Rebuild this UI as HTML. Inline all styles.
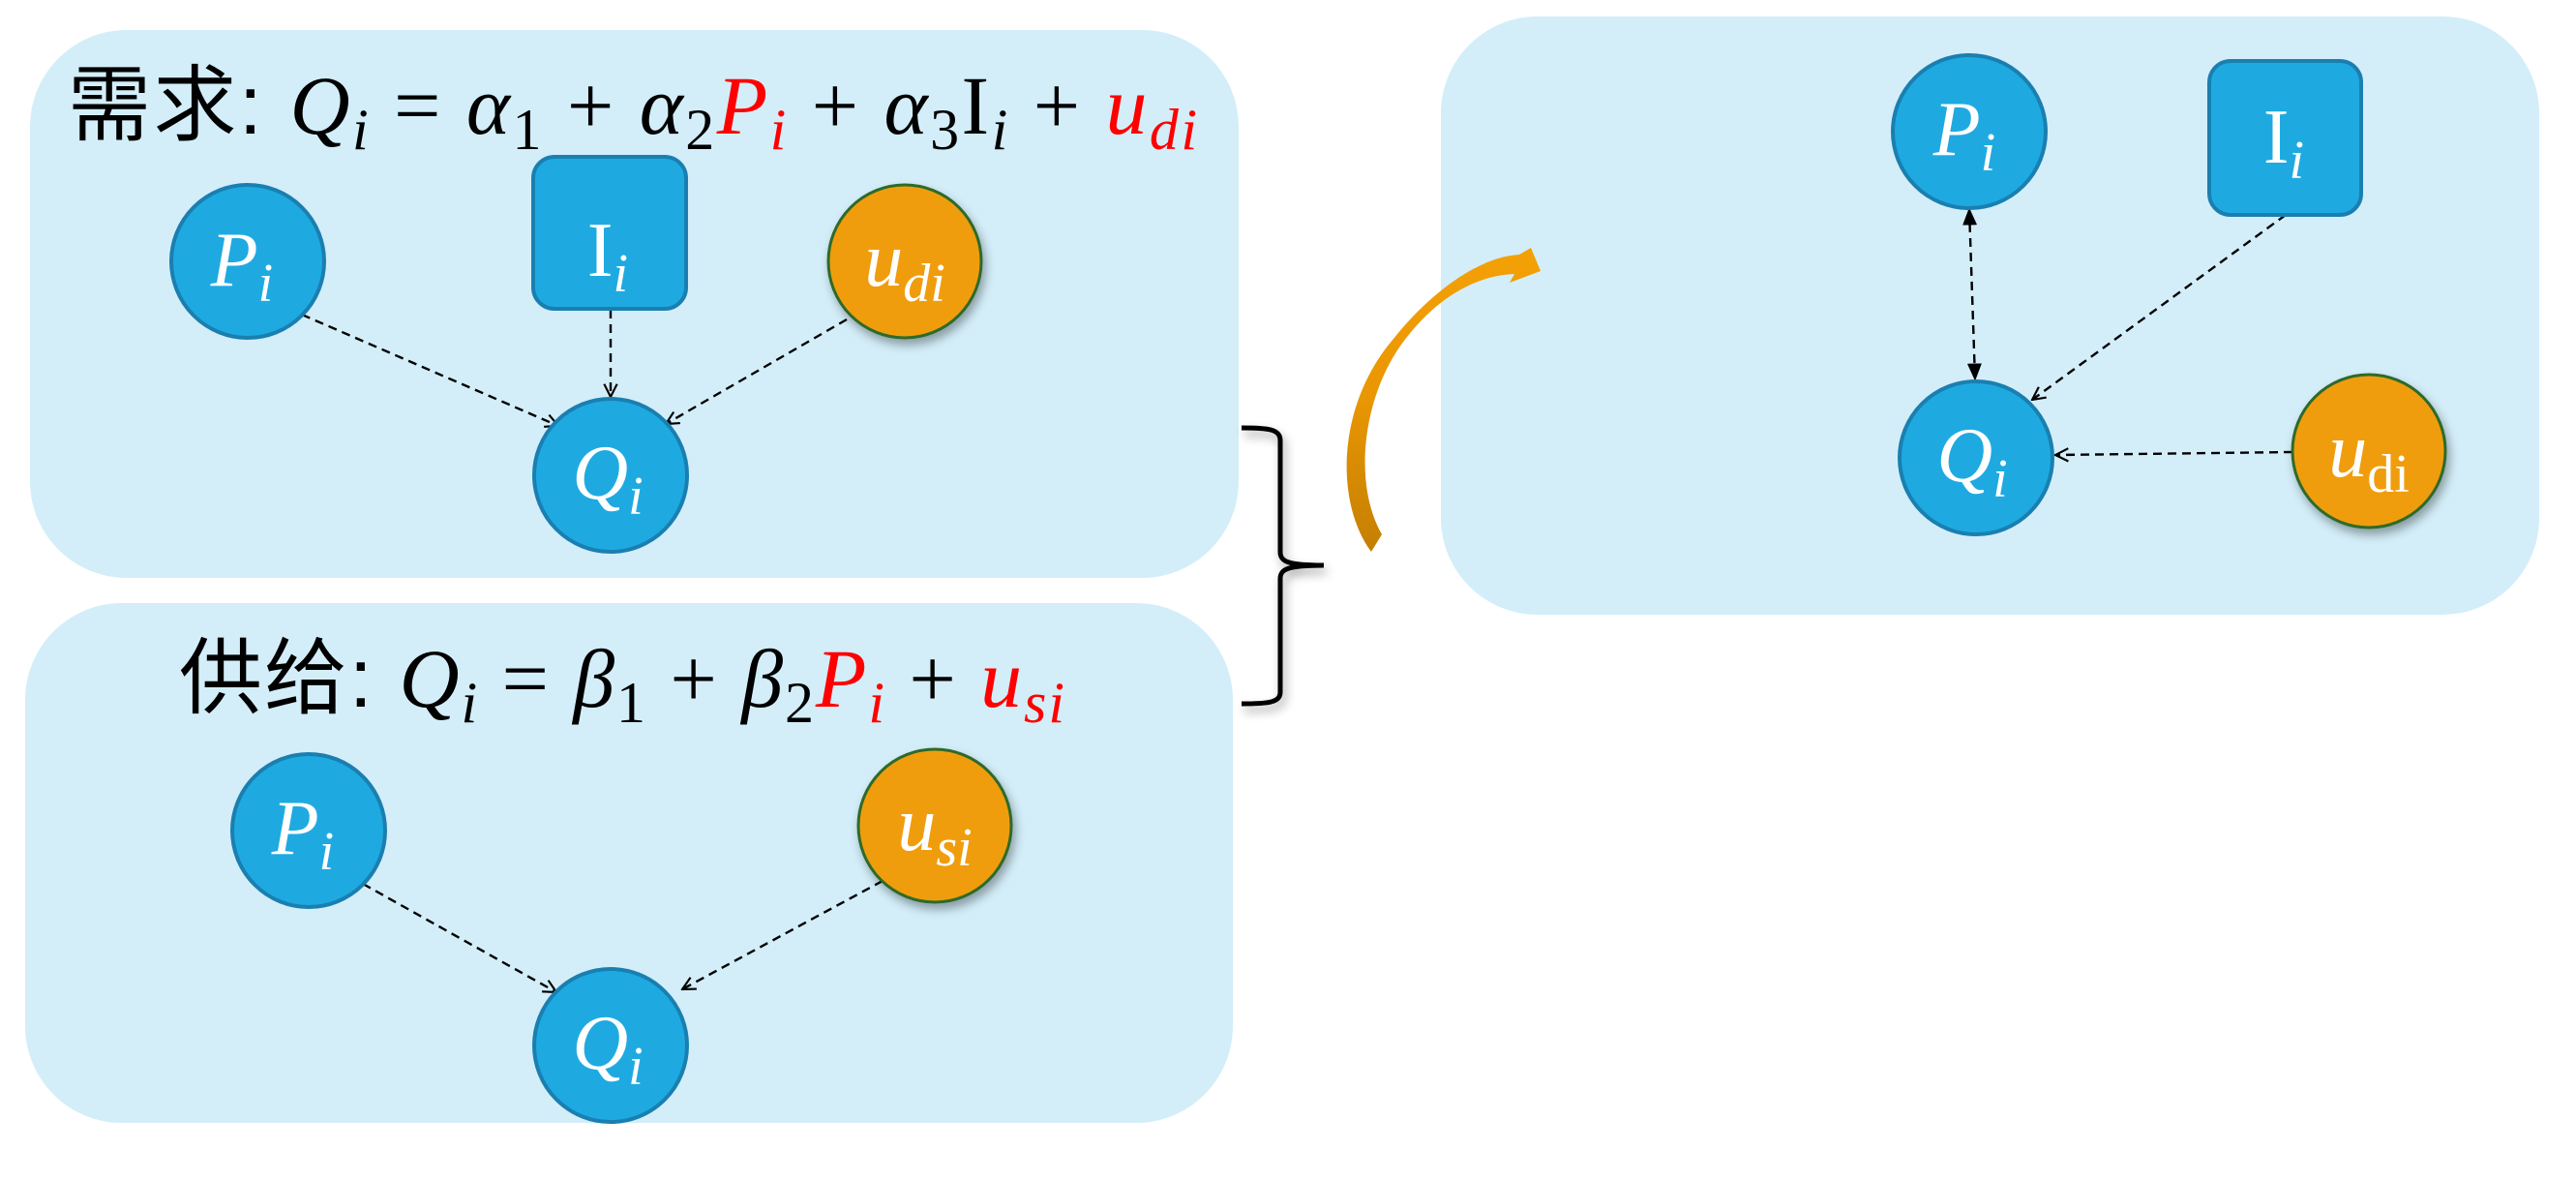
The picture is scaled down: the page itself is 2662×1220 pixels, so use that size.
<!DOCTYPE html>
<html><head><meta charset="utf-8"><style>
html,body{margin:0;padding:0;background:#fff;}
svg{display:block;}
.m{font-family:"Liberation Serif",serif;font-style:italic;}
.c{font-family:"Liberation Sans","Noto Sans CJK SC",sans-serif;}
</style></head><body>
<svg width="2662" height="1220" viewBox="0 0 2662 1220" xmlns="http://www.w3.org/2000/svg">
<defs>
<marker id="oa" viewBox="0 0 12 12" refX="11" refY="6" markerWidth="16" markerHeight="16" markerUnits="userSpaceOnUse" orient="auto"><path d="M1,1 L11,6 L1,11" fill="none" stroke="#000" stroke-width="1.6"/></marker>
<marker id="fa" viewBox="0 0 12 12" refX="11" refY="6" markerWidth="18" markerHeight="18" markerUnits="userSpaceOnUse" orient="auto-start-reverse"><path d="M0,1 L12,6 L0,11 z" fill="#000"/></marker>
<filter id="sh" x="-30%" y="-30%" width="160%" height="160%"><feDropShadow dx="3" dy="6" stdDeviation="5" flood-color="#000" flood-opacity="0.35"/></filter>
<linearGradient id="og" x1="0" y1="0" x2="0" y2="1"><stop offset="0" stop-color="#f4a006"/><stop offset="0.5" stop-color="#e99603"/><stop offset="1" stop-color="#c47f02"/></linearGradient>
</defs>
<rect x="31" y="31" width="1249" height="566" rx="100" fill="#d3eef9"/>
<rect x="26" y="623" width="1248" height="537" rx="100" fill="#d3eef9"/>
<rect x="1489" y="17" width="1135" height="618" rx="100" fill="#d3eef9"/>

<text x="70" y="138" font-size="86" fill="#000" textLength="1167" lengthAdjust="spacing"><tspan class="c">需求: </tspan><tspan class="m">Q</tspan><tspan class="m" font-size="60" dy="16">i</tspan><tspan dy="-16" font-family="Liberation Serif"> = </tspan><tspan class="m">α</tspan><tspan font-family="Liberation Serif" font-size="60" dy="16">1</tspan><tspan dy="-16" font-family="Liberation Serif"> + </tspan><tspan class="m">α</tspan><tspan font-family="Liberation Serif" font-size="60" dy="16">2</tspan><tspan class="m" fill="#f00" dy="-16">P</tspan><tspan class="m" fill="#f00" font-size="60" dy="16">i</tspan><tspan dy="-16" font-family="Liberation Serif"> + </tspan><tspan class="m">α</tspan><tspan font-family="Liberation Serif" font-size="60" dy="16">3</tspan><tspan font-family="Liberation Serif" dy="-16">I</tspan><tspan class="m" font-size="60" dy="16">i</tspan><tspan dy="-16" font-family="Liberation Serif"> + </tspan><tspan class="m" fill="#f00">u</tspan><tspan class="m" fill="#f00" font-size="60" dy="16">di</tspan></text>

<text x="185" y="730" font-size="86" fill="#000" textLength="915" lengthAdjust="spacing"><tspan class="c">供给: </tspan><tspan class="m">Q</tspan><tspan class="m" font-size="60" dy="16">i</tspan><tspan dy="-16" font-family="Liberation Serif"> = </tspan><tspan class="m">β</tspan><tspan font-family="Liberation Serif" font-size="60" dy="16">1</tspan><tspan dy="-16" font-family="Liberation Serif"> + </tspan><tspan class="m">β</tspan><tspan font-family="Liberation Serif" font-size="60" dy="16">2</tspan><tspan class="m" fill="#f00" dy="-16">P</tspan><tspan class="m" fill="#f00" font-size="60" dy="16">i</tspan><tspan dy="-16" font-family="Liberation Serif"> + </tspan><tspan class="m" fill="#f00">u</tspan><tspan class="m" fill="#f00" font-size="60" dy="16">si</tspan></text>

<g stroke="#000" stroke-width="2.4" stroke-dasharray="9,6" fill="none">
<line x1="312" y1="325" x2="577" y2="440" marker-end="url(#oa)"/>
<line x1="631" y1="320" x2="631" y2="410" marker-end="url(#oa)"/>
<line x1="875" y1="330" x2="688" y2="438" marker-end="url(#oa)"/>
<line x1="375" y1="913" x2="575" y2="1025" marker-end="url(#oa)"/>
<line x1="912" y1="910" x2="705" y2="1022" marker-end="url(#oa)"/>
<line x1="2035" y1="216" x2="2041" y2="392" marker-start="url(#fa)" marker-end="url(#fa)"/>
<line x1="2362" y1="222" x2="2100" y2="413" marker-end="url(#oa)"/>
<line x1="2369" y1="467" x2="2124" y2="470" marker-end="url(#oa)"/>
</g>

<g stroke="#1a7fb0" stroke-width="4" fill="#1eaae1">
<circle cx="256" cy="270" r="79"/>
<rect x="551" y="162" width="158" height="157" rx="22"/>
<circle cx="631" cy="491" r="79"/>
<circle cx="319" cy="858" r="79"/>
<circle cx="631" cy="1080" r="79"/>
<circle cx="2035" cy="136" r="79"/>
<rect x="2283" y="63" width="157" height="159" rx="22"/>
<circle cx="2042" cy="473" r="79"/>
</g>
<g stroke="#2e6a2c" stroke-width="3" fill="#f09d07" filter="url(#sh)">
<circle cx="935" cy="270" r="79"/>
<circle cx="966" cy="853" r="79"/>
<circle cx="2448" cy="466" r="79"/>
</g>

<g fill="#fff" font-size="80">
<text x="250" y="295" text-anchor="middle"><tspan class="m">P</tspan><tspan class="m" font-size="56" dy="16">i</tspan></text>
<text x="628" y="285" text-anchor="middle"><tspan font-family="Liberation Serif">I</tspan><tspan class="m" font-size="56" dy="16">i</tspan></text>
<text x="935" y="295" text-anchor="middle"><tspan class="m">u</tspan><tspan class="m" font-size="56" dy="16">di</tspan></text>
<text x="628" y="515" text-anchor="middle"><tspan class="m">Q</tspan><tspan class="m" font-size="56" dy="16">i</tspan></text>
<text x="313" y="882" text-anchor="middle"><tspan class="m">P</tspan><tspan class="m" font-size="56" dy="16">i</tspan></text>
<text x="966" y="878" text-anchor="middle"><tspan class="m">u</tspan><tspan class="m" font-size="56" dy="16">si</tspan></text>
<text x="628" y="1104" text-anchor="middle"><tspan class="m">Q</tspan><tspan class="m" font-size="56" dy="16">i</tspan></text>
<text x="2030" y="160" text-anchor="middle"><tspan class="m">P</tspan><tspan class="m" font-size="56" dy="16">i</tspan></text>
<text x="2360" y="168" text-anchor="middle"><tspan font-family="Liberation Serif">I</tspan><tspan class="m" font-size="56" dy="16">i</tspan></text>
<text x="2038" y="497" text-anchor="middle"><tspan class="m">Q</tspan><tspan class="m" font-size="56" dy="16">i</tspan></text>
<text x="2448" y="492" text-anchor="middle"><tspan class="m">u</tspan><tspan font-family="Liberation Serif" font-size="56" dy="16">di</tspan></text>
</g>

<path d="M1283,442 C1310,442 1323,443 1323,455 L1323,570 C1323,580 1330,584 1368,584 C1330,584 1323,588 1323,598 L1323,715 C1323,726 1310,727 1283,727" fill="none" stroke="#000" stroke-width="5" filter="url(#sh)"/>

<path d="M1417,570 C1380,520 1380,420 1440,350 C1480,300 1530,265 1570,263 L1582,256 L1592,280 L1560,292 L1565,283 C1520,285 1480,312 1448,356 C1408,412 1398,500 1428,552 Z" fill="url(#og)"/>
</svg>
</body></html>
